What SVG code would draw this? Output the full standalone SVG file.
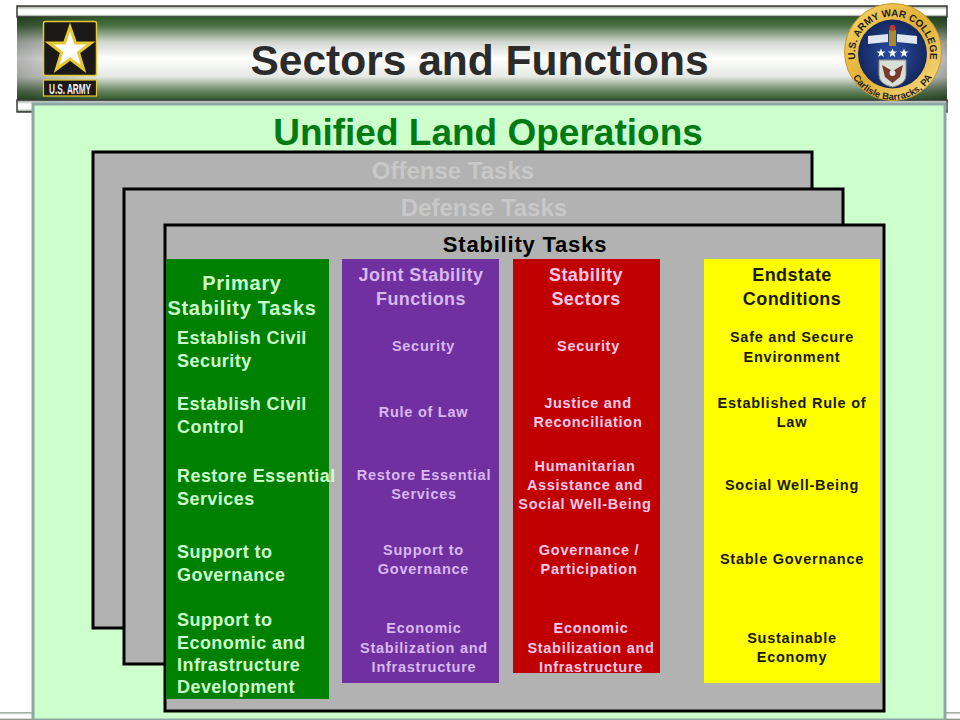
<svg xmlns="http://www.w3.org/2000/svg" width="960" height="720" viewBox="0 0 960 720">
<style>
text{font-family:"Liberation Sans",Arial,sans-serif;text-anchor:middle;font-weight:bold}
.tab{fill:#b2b2b2;stroke:#000;stroke-width:3}
.l{text-anchor:start;font-size:18px;fill:#ccffcc;letter-spacing:.45px}
.h{font-size:18px;letter-spacing:.45px}
.hg{font-size:20px;fill:#ccffcc;letter-spacing:.7px}
.p{font-size:14.5px;fill:#d8b8f0;letter-spacing:.75px}
.r{font-size:14.5px;fill:#ffc8e8;letter-spacing:.7px}
.y{font-size:14.5px;fill:#1a1a00;letter-spacing:.75px}
.g{font-size:24px;fill:#c8c8c8}
</style>
<defs>
<linearGradient id="band" x1="0" y1="0" x2="0" y2="1">
<stop offset="0" stop-color="#2f5a28"/><stop offset=".1" stop-color="#4a7042"/><stop offset=".3" stop-color="#d0d6ce"/><stop offset=".5" stop-color="#fff"/><stop offset=".72" stop-color="#e4e8e2"/><stop offset=".88" stop-color="#6d8a66"/><stop offset="1" stop-color="#2f5a28"/>
</linearGradient>
<linearGradient id="left" x1="0" y1="0" x2="1" y2="0">
<stop offset="0" stop-color="#000" stop-opacity=".3"/><stop offset=".09" stop-color="#000" stop-opacity="0"/><stop offset=".93" stop-color="#000" stop-opacity="0"/><stop offset="1" stop-color="#000" stop-opacity=".3"/>
</linearGradient>
<linearGradient id="bar" x1="0" y1="0" x2="0" y2="1">
<stop offset="0" stop-color="#8f9a8c"/><stop offset=".35" stop-color="#fff"/><stop offset=".75" stop-color="#fff"/><stop offset="1" stop-color="#6a7266"/>
</linearGradient>
<linearGradient id="gold" x1="0" y1="0" x2="1" y2="1">
<stop offset="0" stop-color="#f7d768"/><stop offset=".5" stop-color="#e2ae35"/><stop offset="1" stop-color="#f8e28e"/>
</linearGradient>
<radialGradient id="blue"><stop offset="0" stop-color="#2a4fa8"/><stop offset="1" stop-color="#14285e"/></radialGradient>
<polygon id="star" points="0,-4.500 1.200,-1.400 4.500,-1.400 1.800,.6 2.800,4 0,2 -2.800,4 -1.800,.6 -4.500,-1.400 -1.200,-1.400" fill="#fff"/>
</defs>
<rect width="960" height="720" fill="#fff"/>
<g id="header">
<rect x="17" y="6" width="930" height="11" fill="url(#bar)" stroke="#3a3a3a" stroke-width="1.500"/>
<rect x="17" y="17" width="930" height="83" fill="url(#band)"/>
<rect x="17" y="17" width="930" height="83" fill="url(#left)"/>
<rect x="17" y="100" width="930" height="12" fill="url(#bar)" stroke="#3a3a3a" stroke-width="1.500"/>
<rect x="0" y="712" width="960" height="8" fill="url(#bar)"/>
<text x="479.500" y="75" font-size="42.500" fill="#2b2b2b">Sectors and Functions</text>
</g>
<g id="army-logo">
<rect x="43.500" y="21.500" width="53" height="54" rx="2" fill="#1c1a18" stroke="#e8c832" stroke-width="1.500"/>
<polygon points="70,27 75.500,43 91,43 78.500,52.500 83.500,69 70,59 56.500,69 61.500,52.500 49,43 64.500,43" fill="#fff" stroke="#e8c832" stroke-width="3"/>
<rect x="43.500" y="80" width="53" height="16" fill="#1c1a18" stroke="#e8c832" stroke-width="1.200"/>
<text x="70" y="93.500" font-size="14.500" fill="#f2f2f2" textLength="42" lengthAdjust="spacingAndGlyphs">U.S. ARMY</text>
</g>
<g id="war-college-seal">
<circle cx="893" cy="52" r="48.500" fill="url(#gold)" stroke="#c99a2a"/>
<circle cx="892.500" cy="54" r="34.500" fill="url(#blue)"/>
<path id="arcTop" d="M857.300,66.800A37.500,37.500 0 1 1 927.700,66.800" fill="none"/>
<path id="arcBot" d="M848.100,65.900A46,46 0 0 0 936.900,65.900" fill="none"/>
<text font-size="10" fill="#1e1e1e"><textPath href="#arcTop" startOffset="50%">U.S. ARMY WAR COLLEGE</textPath></text>
<text font-size="9.500" fill="#1e1e1e"><textPath href="#arcBot" startOffset="50%">Carlisle Barracks, PA</textPath></text>
<path d="M868,36L888,34V42L868,44ZM897,34L917,36V44L897,42Z" fill="#dfe6ef"/>
<rect x="889" y="30" width="7" height="16" fill="#a8892e"/>
<circle cx="892.500" cy="28" r="3" fill="#b8402a"/>
<use href="#star" x="881" y="53"/><use href="#star" x="892.500" y="53"/><use href="#star" x="904" y="53"/>
<path d="M879,60H906V75Q906,84 892.500,87Q879,84 879,75Z" fill="#d9dfd6" stroke="#8a8f85"/>
<path d="M882,65L892.500,71L903,65L900,77L892.500,83L885,77Z" fill="#7a3a28"/>
<circle cx="892.500" cy="73" r="3" fill="#e8e8f0"/>
</g>
<g id="background">
<rect x="33" y="104" width="912" height="616" fill="#ccffcc" stroke="#8ca8a4" stroke-width="3"/>
<text x="488" y="145" font-size="37" fill="#007a12">Unified Land Operations</text>
</g>
<g id="offense-tasks">
<rect class="tab" x="93" y="152" width="719" height="476"/>
<text class="g" x="453" y="179">Offense Tasks</text>
</g>
<g id="defense-tasks">
<rect class="tab" x="124" y="189" width="719" height="475"/>
<text class="g" x="484" y="216">Defense Tasks</text>
</g>
<g id="stability-tasks">
<rect class="tab" x="165" y="225" width="719" height="486"/>
<text x="525" y="252" font-size="22" letter-spacing=".8" fill="#000">Stability Tasks</text>
</g>
<g id="primary">
<rect x="166" y="259" width="163" height="440" fill="#008000"/>
<text class="hg" x="242" y="290">Primary</text>
<text class="hg" x="242" y="315">Stability Tasks</text>
<text class="l" x="177" y="344">Establish Civil</text><text class="l" x="177" y="367">Security</text>
<text class="l" x="177" y="410">Establish Civil</text><text class="l" x="177" y="433">Control</text>
<text class="l" x="177" y="482">Restore Essential</text><text class="l" x="177" y="505">Services</text>
<text class="l" x="177" y="558">Support to</text><text class="l" x="177" y="581">Governance</text>
<text class="l" x="177" y="626">Support to</text><text class="l" x="177" y="649">Economic and</text><text class="l" x="177" y="671">Infrastructure</text><text class="l" x="177" y="693">Development</text>
</g>
<g id="joint">
<rect x="342" y="259" width="157" height="424" fill="#7030a0"/>
<text class="h" x="421" y="281" style="fill:#d8b8f0">Joint Stability</text>
<text class="h" x="421" y="305" style="fill:#d8b8f0">Functions</text>
<text class="p" x="423.500" y="351">Security</text>
<text class="p" x="423.500" y="417">Rule of Law</text>
<text class="p" x="424" y="480">Restore Essential</text><text class="p" x="424" y="499">Services</text>
<text class="p" x="423.500" y="555">Support to</text><text class="p" x="423.500" y="574">Governance</text>
<text class="p" x="424" y="633">Economic</text><text class="p" x="424" y="653">Stabilization and</text><text class="p" x="424" y="672">Infrastructure</text>
</g>
<g id="sectors">
<rect x="513" y="259" width="147" height="414" fill="#c00000"/>
<text class="h" x="586" y="281" style="fill:#ffc8e8">Stability</text>
<text class="h" x="586" y="305" style="fill:#ffc8e8">Sectors</text>
<text class="r" x="588.500" y="351">Security</text>
<text class="r" x="588" y="408">Justice and</text><text class="r" x="588" y="427">Reconciliation</text>
<text class="r" x="585" y="471">Humanitarian</text><text class="r" x="585" y="490">Assistance and</text><text class="r" x="585" y="509">Social Well-Being</text>
<text class="r" x="589" y="555">Governance /</text><text class="r" x="589" y="574">Participation</text>
<text class="r" x="591" y="633">Economic</text><text class="r" x="591" y="653">Stabilization and</text><text class="r" x="591" y="672">Infrastructure</text>
</g>
<g id="endstate">
<rect x="704" y="259" width="176" height="424" fill="#ffff00"/>
<text class="h" x="792" y="281" style="fill:#1a1a00">Endstate</text>
<text class="h" x="792" y="305" style="fill:#1a1a00">Conditions</text>
<text class="y" x="792" y="342">Safe and Secure</text><text class="y" x="792" y="362">Environment</text>
<text class="y" x="792" y="408">Established Rule of</text><text class="y" x="792" y="427">Law</text>
<text class="y" x="792" y="490">Social Well-Being</text>
<text class="y" x="792" y="564">Stable Governance</text>
<text class="y" x="792" y="643">Sustainable</text><text class="y" x="792" y="662">Economy</text>
</g>
</svg>
